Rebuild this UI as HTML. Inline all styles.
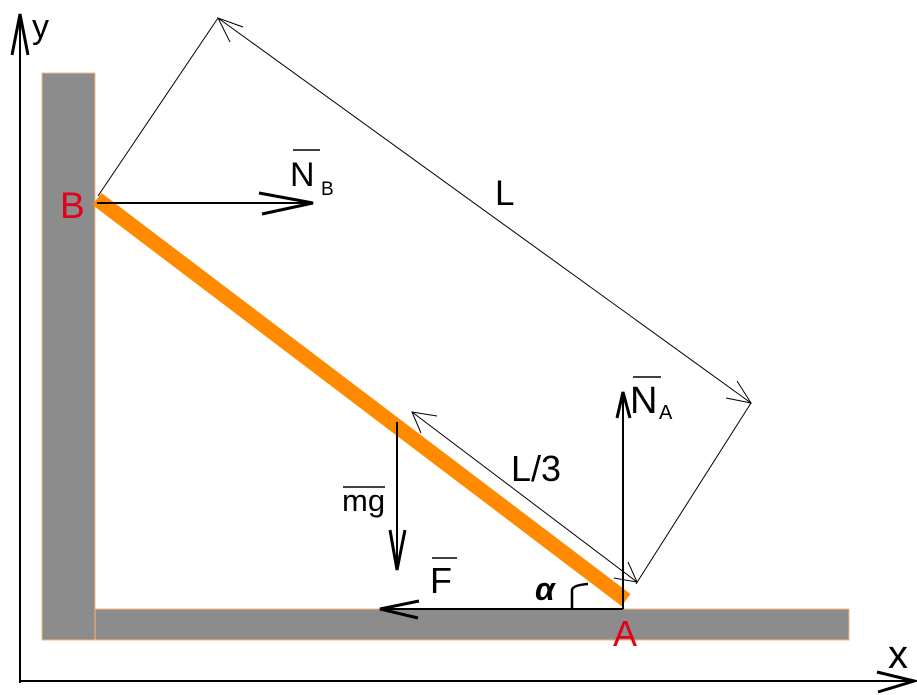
<!DOCTYPE html>
<html><head><meta charset="utf-8"><style>
html,body{margin:0;padding:0;background:#fff;}
svg{display:block;}
text{font-family:"Liberation Sans",sans-serif;}
</style></head><body>
<svg width="917" height="695" viewBox="0 0 917 695" xmlns="http://www.w3.org/2000/svg">
<line x1="20" y1="683" x2="20" y2="15" stroke="#000" stroke-width="2"/>
<path d="M12 55 L20 14 L28 55" fill="none" stroke="#000" stroke-width="3"/>
<line x1="20" y1="681" x2="913" y2="681" stroke="#000" stroke-width="2"/>
<path d="M877 672 L914 681 L878 692" fill="none" stroke="#000" stroke-width="3"/>
<text x="32" y="38" font-size="34">y</text>
<text x="888" y="668" font-size="40">x</text>
<rect x="42" y="73" width="53" height="567" fill="#8c8c8c" stroke="#f5b97a" stroke-width="1"/>
<rect x="95" y="609" width="754" height="31" fill="#8c8c8c" stroke="#f5b97a" stroke-width="1"/>
<line x1="97" y1="199" x2="626" y2="600" stroke="#ff8a00" stroke-width="15"/>
<g stroke="#000" stroke-width="1" fill="none">
<line x1="98" y1="196" x2="218" y2="18"/>
<line x1="218" y1="18" x2="751" y2="403"/>
<line x1="636" y1="584" x2="751" y2="403"/>
<path d="M243 27 L218 18 L230 42"/>
<path d="M737 381 L751 403 L726 398"/>
<line x1="412" y1="412" x2="637" y2="582"/>
<path d="M437 416 L412 412 L421 433"/>
<path d="M628 562 L637 582 L614 578"/>
</g>
<text x="495" y="205" font-size="35">L</text>
<text x="511" y="481" font-size="36">L/3</text>
<line x1="97" y1="203" x2="313" y2="203" stroke="#000" stroke-width="2"/>
<path d="M259 193 L313 203 L262 214" fill="none" stroke="#000" stroke-width="3"/>
<text x="290" y="186" font-size="34">N</text>
<text x="321" y="195" font-size="19">B</text>
<line x1="293" y1="150" x2="320" y2="150" stroke="#000" stroke-width="1.5"/>
<line x1="623" y1="609" x2="623" y2="392" stroke="#000" stroke-width="2"/>
<path d="M617 418 L623 392 L630 418" fill="none" stroke="#000" stroke-width="3"/>
<text x="630" y="413" font-size="38">N</text>
<text x="659" y="419" font-size="20">A</text>
<line x1="633" y1="377" x2="661" y2="377" stroke="#000" stroke-width="1.5"/>
<line x1="397" y1="422" x2="397" y2="570" stroke="#000" stroke-width="2"/>
<path d="M390 530 L397 570 L405 530" fill="none" stroke="#000" stroke-width="3"/>
<text x="342" y="511" font-size="31">mg</text>
<line x1="343" y1="487" x2="385" y2="487" stroke="#000" stroke-width="1.5"/>
<line x1="623" y1="609" x2="380" y2="609" stroke="#000" stroke-width="2"/>
<path d="M419 601 L380 609 L418 618" fill="none" stroke="#000" stroke-width="3"/>
<text x="430" y="593" font-size="36">F</text>
<line x1="432" y1="558" x2="457" y2="558" stroke="#000" stroke-width="1.5"/>
<path d="M572 609 L572 590 Q573 585 588 584" fill="none" stroke="#000" stroke-width="2.5"/>
<text x="535" y="600" font-size="32" font-weight="bold" font-style="italic">α</text>
<text x="60" y="218" font-size="37" fill="#e3001b">B</text>
<text x="613" y="646" font-size="36" fill="#e3001b">A</text>
</svg>
</body></html>
